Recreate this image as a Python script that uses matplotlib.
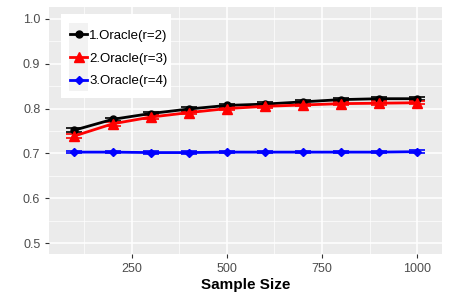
import matplotlib.pyplot as plt
import matplotlib.patches as mpatches
import numpy as np

plt.rcParams['font.family'] = ['Liberation Sans', 'DejaVu Sans']

# data
sample_size = [100, 200, 300, 400, 500, 600, 700, 800, 900, 1000]
r2 = [0.752, 0.776, 0.789, 0.799, 0.807, 0.810, 0.815, 0.820, 0.822, 0.822]
r3 = [0.739, 0.766, 0.781, 0.791, 0.800, 0.805, 0.808, 0.811, 0.812, 0.813]
r4 = [0.703, 0.703, 0.702, 0.702, 0.703, 0.703, 0.703, 0.703, 0.703, 0.704]
r2_err = [0.005, 0.004, 0.004, 0.004, 0.004, 0.004, 0.004, 0.003, 0.003, 0.003]
r3_err = [0.005, 0.004, 0.004, 0.004, 0.004, 0.003, 0.003, 0.003, 0.004, 0.003]
r4_err = [0.003, 0.002, 0.003, 0.003, 0.002, 0.002, 0.002, 0.002, 0.002, 0.003]
labels = ['1.Oracle(r=2)', '2.Oracle(r=3)', '3.Oracle(r=4)']

fig = plt.figure(figsize=(4.5, 3), dpi=100)
ax = fig.add_axes([0.1096, 0.1533, 0.8726, 0.8244])
ax.set_facecolor('#EBEBEB')

series = [(r2, r2_err, 'black', 'o', 5), (r3, r3_err, 'red', '^', 6.5), (r4, r4_err, 'blue', 'D', 4.5)]
handles = []
for (vals, err, col, mk, ms), lab in zip(series, labels):
    ax.errorbar(sample_size, vals, yerr=err, color=col, capsize=6, capthick=1.2,
                elinewidth=1.2, lw=0, zorder=3)
    h, = ax.plot(sample_size, vals, color=col, lw=2, marker=mk, ms=ms, zorder=4, label=lab)
    handles.append(h)

ax.set_xlim(34, 1065)
ax.set_ylim(0.476, 1.027)
ax.set_xticks([250, 500, 750, 1000])
ax.set_yticks([0.5, 0.6, 0.7, 0.8, 0.9, 1.0])
ax.set_xticks([125, 375, 625, 875], minor=True)
ax.set_yticks([0.55, 0.65, 0.75, 0.85, 0.95], minor=True)
ax.grid(True, which='major', color='white', lw=1.1)
ax.grid(True, which='minor', color='white', lw=0.5)
ax.set_axisbelow(True)
for s in ax.spines.values():
    s.set_visible(False)
ax.tick_params(which='major', length=3, color='#333333', labelsize=9, labelcolor='#4D4D4D')
ax.tick_params(which='minor', length=0)
ax.set_xlabel('Sample Size', fontsize=11, fontweight='bold', labelpad=2)

# legend box with grey keys
ax.add_patch(mpatches.Rectangle((61 / 450, 1 - 97.5 / 300), 110 / 450, 83.5 / 300,
                                transform=fig.transFigure, fc='white', ec='none',
                                zorder=5, clip_on=False))
for i in range(3):
    ax.add_patch(mpatches.Rectangle((69 / 450, 1 - (22.7 + (i + 1) * 22.7) / 300), 19 / 450, 22.7 / 300,
                                    transform=fig.transFigure, fc='#F2F2F2', ec='none',
                                    zorder=6, clip_on=False))
leg = ax.legend(handles=handles, loc='upper left', bbox_to_anchor=(70 / 450, 1 - 29.5 / 300),
                bbox_transform=fig.transFigure, frameon=False, borderpad=0, borderaxespad=0,
                fontsize=9.5, handlelength=1.3, handletextpad=0.15, labelspacing=0.8)
leg.set_zorder(10)

fig.savefig('out.png', dpi=100)
